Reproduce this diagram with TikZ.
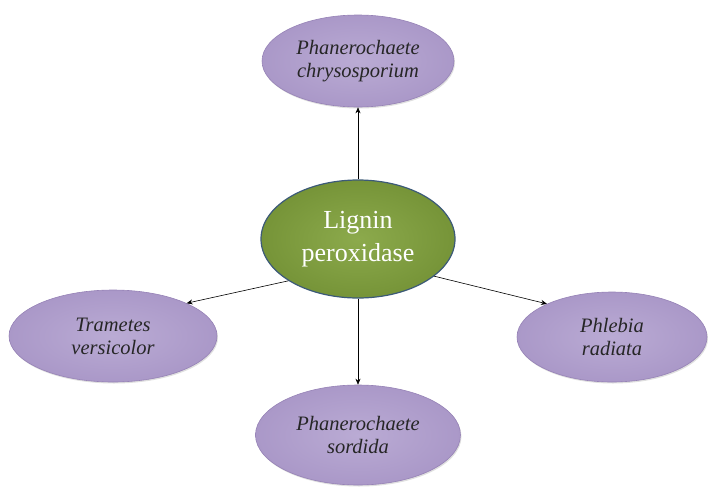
\documentclass[tikz,border=0pt]{standalone}
\usepackage{fontspec}
\setmainfont{Liberation Serif}
\usetikzlibrary{shapes.geometric,arrows.meta,shadows}
\definecolor{lavin}{RGB}{186,171,212}
\definecolor{lavout}{RGB}{170,152,200}
\definecolor{lavedge}{RGB}{150,130,182}
\definecolor{grin}{RGB}{140,170,76}
\definecolor{grout}{RGB}{118,148,56}
\definecolor{gredge}{RGB}{60,90,120}
\tikzset{
  leaf/.style={ellipse, inner sep=0pt, draw=lavedge, line width=0.6pt,
    inner color=lavin, outer color=lavout,
    drop shadow={shadow xshift=1pt, shadow yshift=-1.5pt, opacity=0.25},
    font={\fontsize{20.5}{23}\selectfont\itshape}, text=black!85, align=center},
  hub/.style={ellipse, inner sep=0pt, draw=gredge, line width=1.2pt,
    inner color=grin, outer color=grout,
    font={\fontsize{26}{33}\selectfont}, text=white, align=center},
  link/.style={-{Stealth[length=6pt,width=5pt]}, line width=0.6pt, black}
}
\begin{document}
\begin{tikzpicture}[x=1pt,y=-1pt]
\useasboundingbox (0,0) rectangle (710,488);
\node[hub, minimum width=194pt, minimum height=118pt] (c) at (358,239) {Lignin\\peroxidase};
\node[leaf, minimum width=192pt, minimum height=92pt] (t) at (358,61) {Phanerochaete\\chrysosporium};
\node[leaf, minimum width=208pt, minimum height=92pt] (l) at (113,336) {Trametes\\versicolor};
\node[leaf, minimum width=190pt, minimum height=90pt] (r) at (612,337) {Phlebia\\radiata};
\node[leaf, minimum width=205pt, minimum height=100pt] (b) at (358,435) {Phanerochaete\\sordida};
\draw[link] (c.north) -- (t.south);
\draw[link] (c.211) -- (l.24);
\draw[link] (c.334) -- (r.153);
\draw[link] (c.south) -- (b.north);
\end{tikzpicture}
\end{document}
